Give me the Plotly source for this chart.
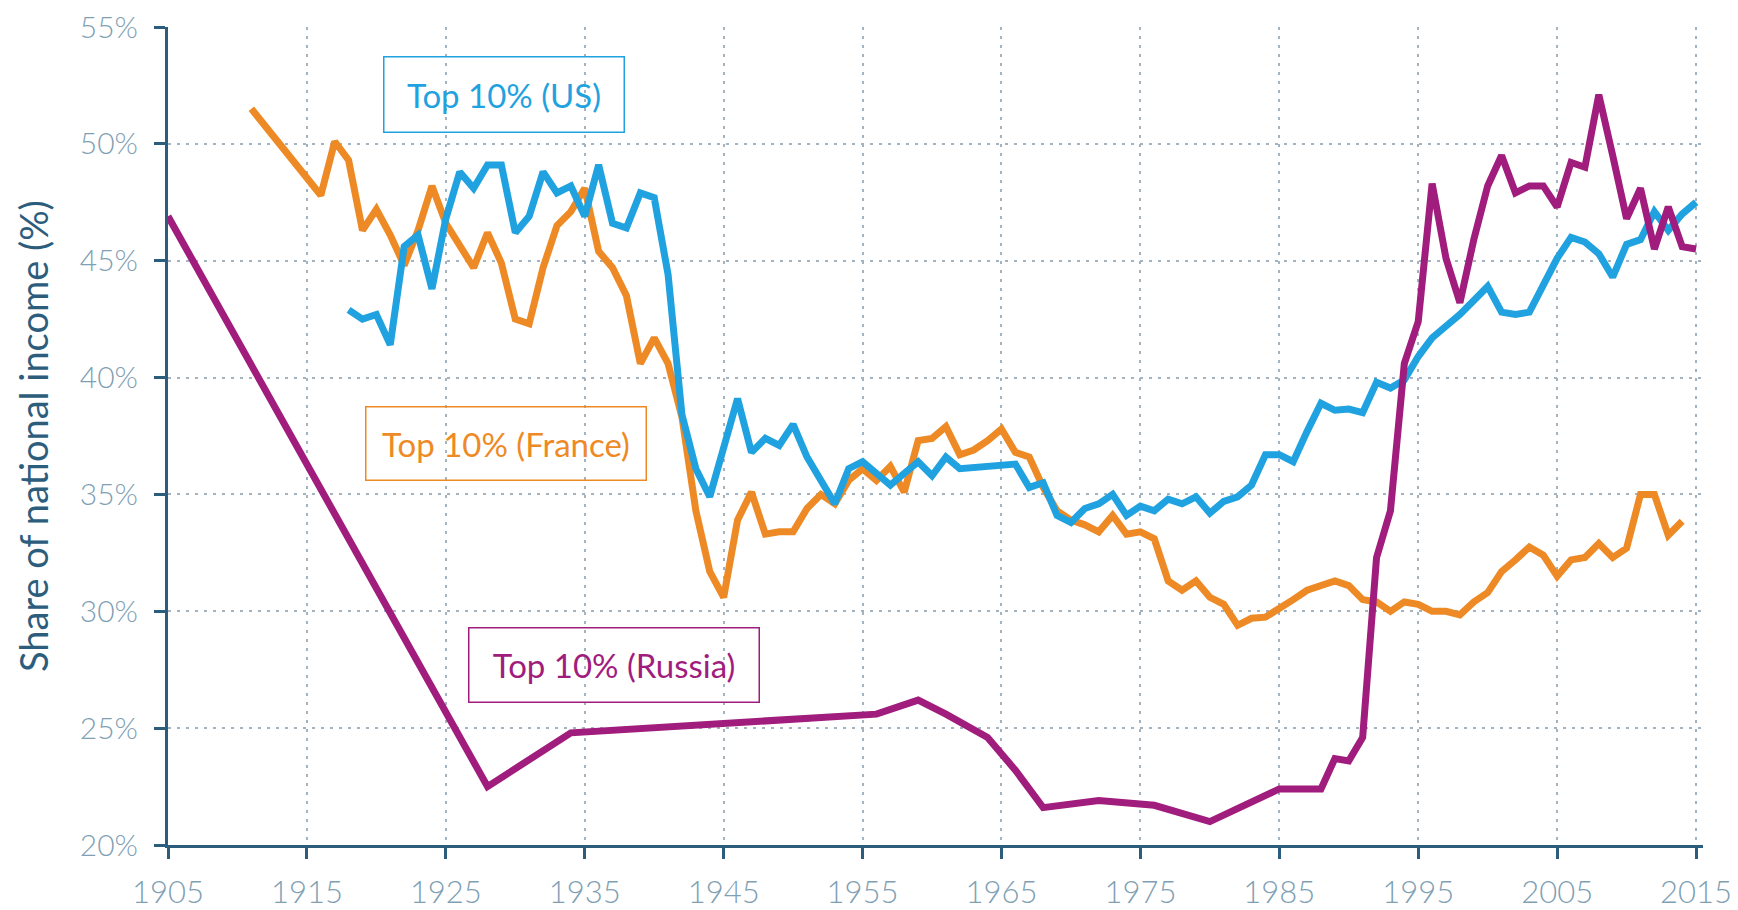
import plotly.graph_objects as go

# ---- data ----
france_years = [1911, 1916, 1917, 1918, 1919, 1920, 1921, 1922, 1923, 1924, 1925, 1926, 1927, 1928, 1929,
                1930, 1931, 1932, 1933, 1934, 1935, 1936, 1937, 1938, 1939, 1940, 1941, 1942, 1943, 1944,
                1945, 1946, 1947, 1948, 1949, 1950, 1951, 1952, 1953, 1954, 1955, 1956, 1957, 1958, 1959,
                1960, 1961, 1962, 1963, 1964, 1965, 1966, 1967, 1968, 1969, 1970, 1971, 1972, 1973, 1974,
                1975, 1976, 1977, 1978, 1979, 1980, 1981, 1982, 1983, 1984, 1985, 1986, 1987, 1988, 1989,
                1990, 1991, 1992, 1993, 1994, 1995, 1996, 1997, 1998, 1999, 2000, 2001, 2002, 2003, 2004,
                2005, 2006, 2007, 2008, 2009, 2010, 2011, 2012, 2013, 2014]
france_values = [51.5, 47.8, 50.1, 49.3, 46.3, 47.2, 46.1, 44.8, 46.3, 48.2, 46.6, 45.7, 44.7, 46.2, 44.9,
                 42.5, 42.3, 44.7, 46.5, 47.1, 48.1, 45.4, 44.7, 43.5, 40.6, 41.7, 40.6, 38.3, 34.3, 31.7,
                 30.6, 33.9, 35.1, 33.3, 33.4, 33.4, 34.4, 35.0, 34.6, 35.6, 36.1, 35.6, 36.2, 35.1, 37.3,
                 37.4, 37.9, 36.7, 36.9, 37.3, 37.8, 36.8, 36.6, 35.3, 34.3, 33.9, 33.7, 33.4, 34.1, 33.3,
                 33.4, 33.1, 31.3, 30.9, 31.3, 30.6, 30.3, 29.4, 29.7, 29.75, 30.1, 30.5, 30.9, 31.1, 31.3,
                 31.1, 30.5, 30.4, 30.0, 30.4, 30.3, 30.0, 30.0, 29.85, 30.4, 30.8, 31.7, 32.2, 32.75, 32.4,
                 31.5, 32.2, 32.3, 32.9, 32.3, 32.7, 35.0, 35.0, 33.25, 33.85]

us_years = list(range(1918, 2016))
us_values = [42.9, 42.5, 42.7, 41.4, 45.6, 46.1, 43.8, 46.8, 48.8, 48.1, 49.1, 49.1,
             46.2, 46.9, 48.8, 47.9, 48.2, 46.9, 49.1, 46.6, 46.4, 47.9, 47.7, 44.4, 38.4, 36.1, 34.9,
             37.0, 39.1, 36.8, 37.4, 37.1, 38.0, 36.6, 35.6, 34.6, 36.1, 36.4, 35.9, 35.4, 35.9, 36.4,
             35.8, 36.6, 36.1, 36.15, 36.2, 36.25, 36.3, 35.3, 35.5, 34.1, 33.8, 34.4, 34.6, 35.0, 34.1,
             34.5, 34.3, 34.8, 34.6, 34.9, 34.2, 34.7, 34.9, 35.4, 36.7, 36.7, 36.4, 37.7, 38.9, 38.6,
             38.65, 38.5, 39.8, 39.55, 39.9, 40.9, 41.7, 42.2, 42.7, 43.3, 43.9, 42.8, 42.7, 42.8, 43.9,
             45.1, 46.0, 45.8, 45.3, 44.3, 45.7, 45.9, 47.1, 46.3, 47.0, 47.5]

russia_years = [1905, 1928, 1934, 1956, 1959, 1961, 1964, 1966, 1968, 1972, 1976, 1980, 1985, 1988, 1989,
                1990, 1991, 1992, 1993, 1994, 1995, 1996, 1997, 1998, 1999, 2000, 2001, 2002, 2003, 2004,
                2005, 2006, 2007, 2008, 2009, 2010, 2011, 2012, 2013, 2014, 2015]
russia_values = [46.9, 22.5, 24.8, 25.6, 26.2, 25.6, 24.6, 23.2, 21.6, 21.9, 21.7, 21.0, 22.4, 22.4, 23.7,
                 23.6, 24.6, 32.3, 34.3, 40.6, 42.4, 48.3, 45.1, 43.2, 45.9, 48.2, 49.5, 47.9, 48.2, 48.2,
                 47.3, 49.2, 49.0, 52.1, 49.5, 46.8, 48.1, 45.5, 47.3, 45.6, 45.5]

x_ticks = [1905, 1915, 1925, 1935, 1945, 1955, 1965, 1975, 1985, 1995, 2005, 2015]
y_ticks = [20, 25, 30, 35, 40, 45, 50, 55]
y_tick_labels = ["20%", "25%", "30%", "35%", "40%", "45%", "50%", "55%"]
y_title = "Share of national income (%)"

labels = ["Top 10% (US)", "Top 10% (France)", "Top 10% (Russia)"]
label_x = [1929.2, 1929.3, 1937.1]
label_y = [52.1, 37.2, 27.7]

# ---- styles ----
BLUE = "#1fa2df"
ORANGE = "#ee8a25"
PURPLE = "#a01c7d"
AXIS = "#2d5d7c"
TICKTXT = "#7f9fb4"
GRID = "#a3b4c0"
FONT = "Lato, 'Open Sans', sans-serif"

fig = go.Figure()
fig.add_trace(go.Scatter(x=france_years, y=france_values, mode="lines",
                         line=dict(color=ORANGE, width=7), name="France", cliponaxis=False))
fig.add_trace(go.Scatter(x=us_years, y=us_values, mode="lines",
                         line=dict(color=BLUE, width=7), name="US", cliponaxis=False))
fig.add_trace(go.Scatter(x=russia_years, y=russia_values, mode="lines",
                         line=dict(color=PURPLE, width=7), name="Russia", cliponaxis=False))

box_w = [239, 279, 289]
box_h = [74, 72, 73]
colors = [BLUE, ORANGE, PURPLE]
for t, xx, yy, c, w, h in zip(labels, label_x, label_y, colors, box_w, box_h):
    fig.add_annotation(x=xx, y=yy, xref="x", yref="y", text=t, showarrow=False,
                       font=dict(family=FONT, size=33, color=c),
                       bordercolor=c, borderwidth=1.5, borderpad=0,
                       width=w, height=h, bgcolor="rgba(255,255,255,0)")

# y axis title as a rotated annotation for precise placement
fig.add_annotation(x=0, y=0.5, xref="paper", yref="paper", text=y_title, showarrow=False,
                   textangle=-90, xanchor="center", yanchor="middle", xshift=-135,
                   font=dict(family=FONT, size=38, color=AXIS))

# the page body adds an 8px offset, so the figure is 8px smaller on each side
fig.update_layout(
    width=1730, height=902,
    margin=dict(l=160, r=35, t=19, b=65),
    paper_bgcolor="white", plot_bgcolor="white",
    showlegend=False,
    font=dict(family=FONT, color=TICKTXT),
)
fig.update_xaxes(
    range=[1905, 2015.5], tickvals=x_ticks, ticktext=[str(v) for v in x_ticks],
    showline=True, linecolor=AXIS, linewidth=3,
    ticks="outside", ticklen=11, tickwidth=3, tickcolor=AXIS,
    tickfont=dict(family=FONT, size=31, color=TICKTXT, weight=300), ticklabelstandoff=7,
    ticklabeloverflow="allow",
    showgrid=True, gridcolor=GRID, gridwidth=2, griddash="3px,6px", zeroline=False,
    automargin=False,
)
fig.update_yaxes(
    range=[20, 55], tickvals=y_ticks, ticktext=y_tick_labels,
    showline=True, linecolor=AXIS, linewidth=3,
    ticks="outside", ticklen=11, tickwidth=3, tickcolor=AXIS,
    tickfont=dict(family=FONT, size=30, color=TICKTXT, weight=300), ticklabelstandoff=10,
    ticklabeloverflow="allow",
    showgrid=True, gridcolor=GRID, gridwidth=2, griddash="3px,6px", zeroline=False,
    automargin=False,
)

fig.write_html("out.html")
